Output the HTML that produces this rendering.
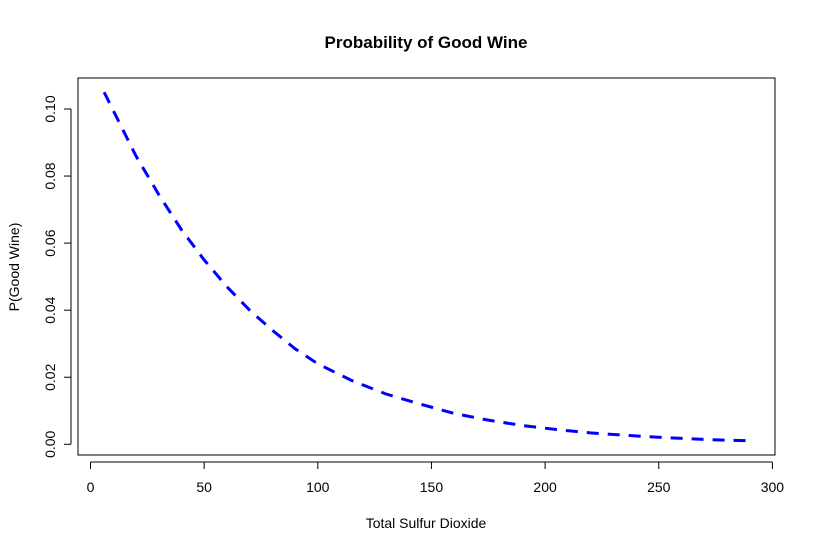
<!DOCTYPE html>
<html><head><meta charset="utf-8"><style>
body{margin:0;background:#fff}
svg text{font-family:"Liberation Sans",Arial,sans-serif;fill:#000}
</style></head><body>
<svg width="814" height="553" xmlns="http://www.w3.org/2000/svg">
<rect width="814" height="553" fill="#fff"/>
<text x="426" y="48" text-anchor="middle" font-size="17" font-weight="bold">Probability of Good Wine</text>
<rect x="78" y="78" width="697" height="377" fill="none" stroke="#000" stroke-width="1"/>
<g id="xaxis"></g>
<g id="yaxis"></g>
<text x="426" y="528" text-anchor="middle" font-size="14">Total Sulfur Dioxide</text>
<text transform="translate(19,267) rotate(-90)" text-anchor="middle" font-size="14">P(Good Wine)</text>
<polyline id="curve" fill="none" stroke="#0000ff" stroke-width="3" stroke-dasharray="12,9"/>
</svg>
<script>
const xTicks=[0,50,100,150,200,250,300];
const yTicks=[0,0.02,0.04,0.06,0.08,0.10];
const yTickLabels=["0.00","0.02","0.04","0.06","0.08","0.10"];
const sulfur=[6,20,30,40,50,60,70,80,90,100,115,130,145,160,175,190,205,220,235,250,265,280,289];
const prob=[0.105,0.086,0.0745,0.064,0.055,0.047,0.040,0.034,0.0285,0.024,0.019,0.015,0.012,0.0092,0.0072,0.0056,0.0044,0.0034,0.0027,0.0021,0.0016,0.0012,0.0011];
const NS="http://www.w3.org/2000/svg";
const sx=v=>90.5+v*2.273;
const sy=v=>444.3-v*3353;
function mk(t,a,p){const e=document.createElementNS(NS,t);for(const k in a)e.setAttribute(k,a[k]);p.appendChild(e);return e;}
const xa=document.getElementById('xaxis');
mk('line',{x1:sx(0),x2:sx(300),y1:462,y2:462,stroke:'#000'},xa);
xTicks.forEach(v=>{
  const l=mk('line',{x1:sx(v),x2:sx(v),y1:462,y2:469,stroke:'#000'},xa);
  
  
  const t=mk('text',{x:sx(v),y:492,'text-anchor':'middle','font-size':'14'},xa);
  
  
  t.textContent=v;
});
const ya=document.getElementById('yaxis');
mk('line',{x1:71,x2:71,y1:sy(0),y2:sy(0.1),stroke:'#000'},ya);
yTicks.forEach((v,i)=>{
  const l=mk('line',{x1:64,x2:71,y1:sy(v),y2:sy(v),stroke:'#000'},ya);
  
  
  const t=mk('text',{transform:`translate(55,${sy(v)}) rotate(-90)`,'text-anchor':'middle','font-size':'14'},ya);
  
  
  t.textContent=yTickLabels[i];
});
document.getElementById('curve').setAttribute('points',sulfur.map((x,i)=>sx(x)+','+sy(prob[i])).join(' '));
</script>
</body></html>
